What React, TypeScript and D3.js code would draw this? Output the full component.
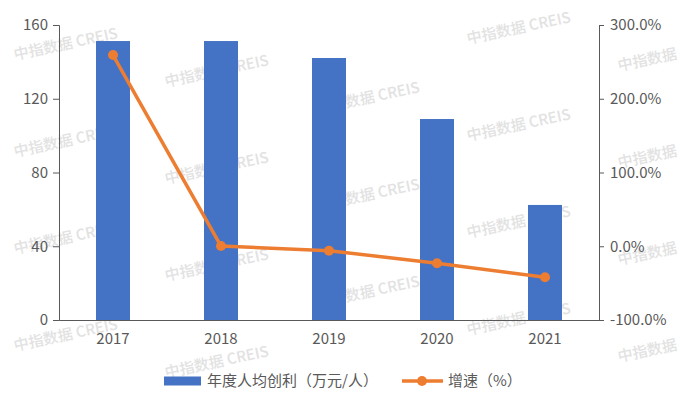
import React, { useEffect, useRef } from 'react';
import * as d3 from 'd3';

const years = ['2017', '2018', '2019', '2020', '2021'];
const profitPerCapita = [151.3, 151.3, 142.1, 109, 62.4];
const growthRate = [259.3, 0.3, -6, -23, -42];
const leftTicks = [0, 40, 80, 120, 160];
const rightTicks = [-100, 0, 100, 200, 300];
const seriesNames = ['年度人均创利（万元/人）', '增速（%）'];
const watermarkText = '中指数据  CREIS';
const watermarkShort = '中指数据';

const BLUE = '#4472C4';
const ORANGE = '#ED7D31';
const AXIS = '#595959';
const FONT = '"Noto Sans CJK SC", "Noto Sans", sans-serif';

const App = () => {
  const ref = useRef<SVGSVGElement>(null);

  useEffect(() => {
    document.body.style.margin = '0';
    const W = 686;
    const H = 398;
    const margin = { top: 25, right: 87, bottom: 78, left: 59 };
    const width = W - margin.left - margin.right;
    const height = H - margin.top - margin.bottom;

    const svg = d3.select(ref.current);
    svg.selectAll('*').remove();

    // 水印
    const wm = svg.append('g');
    for (let c = 0; c < 5; c++) {
      for (let r = -1; r < 5; r++) {
        const x = 15 + 151 * c;
        const y = 60 + 27 * c + 97 * r;
        if (y < 30 || y > 390) continue;
        wm.append('text')
          .attr('transform', `translate(${x},${y}) rotate(-12)`)
          .attr('font-family', FONT)
          .attr('font-size', 15)
          .attr('font-weight', 500)
          .attr('fill', '#e2e2e2')
          .text(c === 4 ? watermarkShort : watermarkText);
      }
    }

    const g = svg.append('g').attr('transform', `translate(${margin.left},${margin.top})`);

    const x = d3.scaleBand().domain(years).range([0, width]);
    const yL = d3.scaleLinear().domain([0, 160]).range([height, 0]);
    const yR = d3.scaleLinear().domain([-100, 300]).range([height, 0]);
    const barW = 34;

    // barras
    g.selectAll('.bar')
      .data(years)
      .enter()
      .append('rect')
      .attr('x', (d) => (x(d) as number) + x.bandwidth() / 2 - barW / 2)
      .attr('y', (d, i) => yL(profitPerCapita[i]))
      .attr('width', barW)
      .attr('height', (d, i) => height - yL(profitPerCapita[i]))
      .attr('fill', BLUE);

    // eje izquierdo
    const left = g.append('g').call(d3.axisLeft(yL).tickValues(leftTicks).tickSize(6).tickPadding(5));
    left.select('.domain').attr('stroke', AXIS);
    left.selectAll('line').attr('stroke', AXIS);
    left.selectAll('text').attr('fill', AXIS).attr('font-size', 15).attr('font-family', FONT);

    // eje derecho
    const right = g
      .append('g')
      .attr('transform', `translate(${width},0)`)
      .call(
        d3
          .axisRight(yR)
          .tickValues(rightTicks)
          .tickSize(5)
          .tickPadding(6)
          .tickFormat((d) => `${(+d).toFixed(1)}%`)
      );
    right.select('.domain').attr('stroke', AXIS);
    right.selectAll('line').attr('stroke', AXIS);
    right.selectAll('text').attr('fill', AXIS).attr('font-size', 15).attr('font-family', FONT);

    // eje x
    const bottom = g
      .append('g')
      .attr('transform', `translate(0,${height})`)
      .call(d3.axisBottom(x).tickSize(0).tickPadding(13));
    bottom.select('.domain').attr('stroke', AXIS);
    bottom.selectAll('text').attr('fill', AXIS).attr('font-size', 15).attr('font-family', FONT);

    // línea de crecimiento
    const line = d3
      .line<number>()
      .x((d, i) => (x(years[i]) as number) + x.bandwidth() / 2)
      .y((d) => yR(d));
    g.append('path')
      .datum(growthRate)
      .attr('fill', 'none')
      .attr('stroke', ORANGE)
      .attr('stroke-width', 3.5)
      .attr('stroke-linejoin', 'round')
      .attr('d', line);
    g.selectAll('.pt')
      .data(growthRate)
      .enter()
      .append('circle')
      .attr('cx', (d, i) => (x(years[i]) as number) + x.bandwidth() / 2)
      .attr('cy', (d) => yR(d))
      .attr('r', 5)
      .attr('fill', ORANGE);

    // leyenda
    const lg = svg.append('g').attr('transform', 'translate(0,381)');
    lg.append('rect').attr('x', 164).attr('y', -4.5).attr('width', 37).attr('height', 9).attr('fill', BLUE);
    lg.append('text')
      .attr('x', 207)
      .attr('dy', '0.35em')
      .attr('font-size', 15)
      .attr('font-family', FONT)
      .attr('fill', AXIS)
      .text(seriesNames[0]);
    lg.append('line').attr('x1', 402).attr('x2', 443).attr('stroke', ORANGE).attr('stroke-width', 3.5);
    lg.append('circle').attr('cx', 422).attr('r', 5).attr('fill', ORANGE);
    lg.append('text')
      .attr('x', 448)
      .attr('dy', '0.35em')
      .attr('font-size', 15)
      .attr('font-family', FONT)
      .attr('fill', AXIS)
      .text(seriesNames[1]);
  }, []);

  return <svg ref={ref} width={686} height={398} style={{ display: 'block', background: '#fff' }} />;
};

export default App;
